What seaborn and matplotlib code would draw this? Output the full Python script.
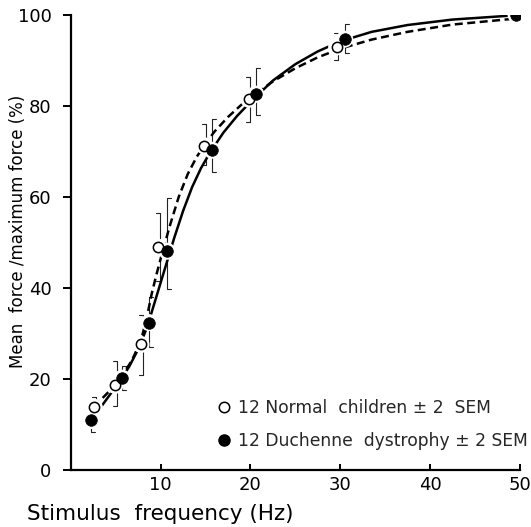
import numpy as np
import pandas as pd
import matplotlib.pyplot as plt
import seaborn as sns
from matplotlib.lines import Line2D

# measured points (stimulus frequency Hz, force % of max)
normal_freq = [2.6, 4.9, 7.8, 9.7, 14.8, 19.8, 29.6]
normal_force = [13.8, 18.6, 27.6, 49.0, 71.3, 81.5, 93.0]
normal_lo = [11.8, 14.0, 21.0, 41.5, 67.0, 76.5, 90.1]
normal_hi = [16.0, 24.0, 34.0, 56.6, 76.0, 86.4, 96.0]

duch_freq = [2.2, 5.7, 8.7, 10.7, 15.7, 20.6, 30.5, 49.6]
duch_force = [10.9, 20.2, 32.4, 48.1, 70.3, 82.6, 94.7, 100.0]
duch_lo = [8.4, 17.5, 27.0, 39.8, 65.6, 78.0, 91.6, np.nan]
duch_hi = [13.5, 22.9, 38.0, 59.9, 77.1, 88.4, 98.0, np.nan]

# fitted curves
normal_curve_x = [2.5, 3.5, 4.5, 5.5, 6.5, 7, 7.5, 8, 8.5, 9, 9.5, 10, 11, 12, 13, 14, 15, 16,
                  17.5, 19, 20, 22.5, 25, 27.5, 30, 33.5, 37.5, 42.5, 50]
normal_curve_y = [14.0, 15.8, 17.8, 20.3, 23.2, 25.0, 27.2, 30.0, 34.0, 38.8, 42.8, 46.5, 53.6,
                  60.0, 65.0, 68.8, 71.8, 74.4, 77.6, 80.3, 81.9, 85.4, 88.3, 90.7, 92.6, 94.6,
                  96.3, 97.9, 99.3]
duch_curve_x = [2.4, 3.5, 4.5, 5.5, 6.5, 7.5, 8.5, 9.5, 10.5, 11.5, 12.5, 13.5, 14.5, 15.5, 17,
                18.5, 20, 22.5, 25, 27.5, 30, 33.5, 37.5, 42.5, 50]
duch_curve_y = [11.5, 14.3, 17.0, 19.7, 22.8, 26.6, 31.5, 38.0, 44.5, 51.0, 57.0, 62.2, 66.4,
                69.8, 74.2, 77.8, 80.9, 85.6, 89.2, 92.0, 94.2, 96.3, 97.8, 99.0, 100.0]

x_ticks = [10, 20, 30, 40, 50]
y_ticks = [0, 20, 40, 60, 80, 100]
legend_labels = ["12 Normal  children \u00b1 2  SEM", "12 Duchenne  dystrophy \u00b1 2 SEM"]

sns.set_theme(style="ticks")
plt.rcParams["font.family"] = ["DejaVu Sans"]

fig = plt.figure(figsize=(5.31, 5.27), dpi=100)
ax = fig.add_axes([0.1337, 0.108, 0.845, 0.8635])

# curves
sns.lineplot(x=duch_curve_x, y=duch_curve_y, ax=ax, color="black", lw=1.8, sort=False,
             estimator=None, zorder=2)
sns.lineplot(x=normal_curve_x, y=normal_curve_y, ax=ax, color="black", lw=1.8, sort=False,
             estimator=None, zorder=2)
ax.lines[-1].set_dashes((3.2, 1.8))


# one-sided SEM brackets
def brackets(xs, lo, hi, offset, serif):
    bx, by = [], []
    for x, l, h in zip(xs, lo, hi):
        if np.isnan(l):
            continue
        xv = x + offset
        bx += [xv + serif, xv, xv, xv + serif, np.nan]
        by += [h, h, l, l, np.nan]
    ax.plot(bx, by, color="#222222", lw=0.8, zorder=1)


brackets(normal_freq, normal_lo, normal_hi, 0.2, -0.45)
brackets(duch_freq, duch_lo, duch_hi, 0.0, 0.45)

# white halo so lines break around the points, as in the original
sns.scatterplot(x=normal_freq + duch_freq, y=normal_force + duch_force, ax=ax, marker="o",
                s=150, color="white", edgecolor="none", zorder=3)
sns.scatterplot(x=normal_freq, y=normal_force, ax=ax, marker="o", s=55, color="white",
                edgecolor="black", linewidth=1.1, zorder=4)
sns.scatterplot(x=duch_freq, y=duch_force, ax=ax, marker="o", s=70, color="black",
                edgecolor="black", linewidth=0.5, zorder=4)

ax.set_xlim(0, 50)
ax.set_ylim(0, 100)
ax.set_xticks(x_ticks)
ax.set_yticks(y_ticks)
sns.despine(ax=ax)
for side in ["left", "bottom"]:
    ax.spines[side].set_linewidth(1.6)
    ax.spines[side].set_color("black")
ax.tick_params(axis="y", direction="out", length=6, width=1.4, pad=8, labelsize=13,
               colors="black")
ax.tick_params(axis="x", direction="in", length=4, width=1.4, pad=4, labelsize=13,
               colors="black")

ax.set_xlabel("Stimulus  frequency (Hz)", fontsize=15.5, color="black")
ax.xaxis.set_label_coords(0.198, -0.075)
ax.set_ylabel("Mean  force /maximum force (%)", fontsize=12, color="black")
ax.yaxis.set_label_coords(-0.098, 0.525)

handles = [
    Line2D([], [], marker="o", ls="", markersize=7.5, markerfacecolor="white",
           markeredgecolor="black", markeredgewidth=1.1),
    Line2D([], [], marker="o", ls="", markersize=8, markerfacecolor="black",
           markeredgecolor="black"),
]
ax.legend(handles, legend_labels, loc="lower left", bbox_to_anchor=(0.31, 0.03),
          frameon=False, fontsize=12.3, handlelength=0.8, handletextpad=0.45,
          labelspacing=0.85, borderaxespad=0)

fig.savefig("out.png", dpi=100)
